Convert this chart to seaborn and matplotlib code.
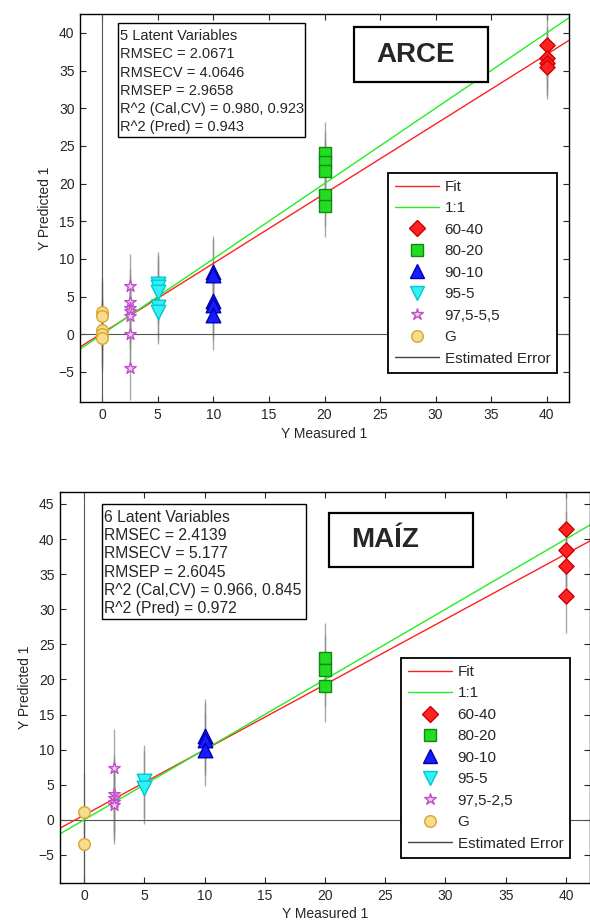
import numpy as np
import pandas as pd
import matplotlib
matplotlib.use("Agg")
import matplotlib.pyplot as plt
import seaborn as sns
from matplotlib.lines import Line2D
from matplotlib.patches import Rectangle

# ---------------- data ----------------
group_names = ["60-40", "80-20", "90-10", "95-5", "97,5", "G"]
group_measured = [40, 20, 10, 5, 2.5, 0]

# ARCE (top panel) predicted values per group
arce_6040 = [38.4, 36.6, 36.0, 35.4]
arce_8020 = [24.0, 22.8, 21.7, 18.5, 17.0]
arce_9010 = [8.3, 7.9, 4.4, 3.9, 2.6]
arce_955 = [6.6, 6.2, 5.6, 3.6, 3.0]
arce_975 = [6.4, 4.3, 3.5, 3.1, 2.4, 0.0, -4.5]
arce_g = [2.9, 2.4, 0.5, 0.0, -0.5]
arce_err = [4.2, 4.1, 4.7, 4.3, 4.3, 4.5]
arce_fit = [0.925, 0.15]  # slope, intercept
arce_stats = ["5 Latent Variables", "RMSEC = 2.0671", "RMSECV = 4.0646",
              "RMSEP = 2.9658", "R^2 (Cal,CV) = 0.980, 0.923", "R^2 (Pred) = 0.943"]
arce_labels = ["Fit", "1:1", "60-40", "80-20", "90-10", "95-5", "97,5-5,5", "G", "Estimated Error"]

# MAÍZ (bottom panel)
maiz_6040 = [41.4, 38.5, 36.1, 31.9]
maiz_8020 = [23.0, 21.3, 19.1]
maiz_9010 = [12.0, 11.4, 10.0]
maiz_955 = [5.5, 4.6]
maiz_975 = [7.4, 3.7, 3.1, 2.6, 2.1]
maiz_g = [1.1, -3.4]
maiz_err = [5.3, 5.1, 5.2, 5.2, 5.5, 5.5]
maiz_fit = [0.93, 0.67]
maiz_stats = ["6 Latent Variables", "RMSEC = 2.4139", "RMSECV = 5.177",
              "RMSEP = 2.6045", "R^2 (Cal,CV) = 0.966, 0.845", "R^2 (Pred) = 0.972"]
maiz_labels = ["Fit", "1:1", "60-40", "80-20", "90-10", "95-5", "97,5-2,5", "G", "Estimated Error"]

x_ticks = [0, 5, 10, 15, 20, 25, 30, 35, 40]
arce_yticks = [-5, 0, 5, 10, 15, 20, 25, 30, 35, 40]
maiz_yticks = [-5, 0, 5, 10, 15, 20, 25, 30, 35, 40, 45]

# ---------------- styles ----------------
markers = {"60-40": "D", "80-20": "s", "90-10": "^", "95-5": "v", "97,5": "*", "G": "o"}
faces = {"60-40": "#ff2222", "80-20": "#22dd22", "90-10": "#1a1aff", "95-5": "#33f0f5",
         "97,5": "#f3c6f3", "G": "#f8dc8e"}
edges = {"60-40": "#cc0000", "80-20": "#118811", "90-10": "#0000b0", "95-5": "#00c8d0",
         "97,5": "#c050c8", "G": "#d9a630"}
sizes = {"60-40": 60, "80-20": 70, "90-10": 110, "95-5": 110, "97,5": 75, "G": 70}

sns.set_style("ticks")
plt.rcParams["font.family"] = ["Liberation Sans", "DejaVu Sans"]

W, H = 590, 923
fig = plt.figure(figsize=(W / 100, H / 100), dpi=100)


def fx(x):
    return x / W


def fy(y):
    return 1 - y / H


def make_df(vals, errs):
    rows = []
    for name, xm, v, e in zip(group_names, group_measured, vals, errs):
        for p in v:
            rows.append({"group": name, "measured": xm, "predicted": p, "err": e})
    return pd.DataFrame(rows)


def panel(ax, df, fit, yticks, ylim, labels, legend_box, xlabelpad):
    ax.set_xlim(-2, 42)
    ax.set_ylim(*ylim)
    # estimated error bars
    ax.vlines(df["measured"], df["predicted"] - df["err"], df["predicted"] + df["err"],
              color="#8a8a8a", lw=1.0, alpha=0.75, zorder=1)
    ax.axhline(0, color="#555555", lw=0.8, zorder=1.5)
    ax.axvline(0, color="#555555", lw=0.8, zorder=1.5)
    xr = pd.DataFrame({"x": [-2, 42]})
    xr["fit"] = fit[0] * xr["x"] + fit[1]
    sns.lineplot(data=xr, x="x", y="fit", ax=ax, color="#ff2020", lw=1.0, zorder=2)
    sns.lineplot(data=xr, x="x", y="x", ax=ax, color="#22ee22", lw=1.0, zorder=2)
    for name in group_names:
        sub = df[df["group"] == name]
        sns.scatterplot(data=sub, x="measured", y="predicted", ax=ax, marker=markers[name],
                        s=sizes[name], color=faces[name], edgecolor=edges[name],
                        linewidth=1.0, zorder=3, legend=False)
    ax.set_xticks(x_ticks)
    ax.set_yticks(yticks)
    ax.set_xlabel("Y Measured 1", fontsize=10, labelpad=xlabelpad)
    ax.set_ylabel("Y Predicted 1", fontsize=10, labelpad=5)
    ax.tick_params(direction="in", top=True, right=True, length=4, width=0.8,
                   labelsize=10, pad=4)
    for sp in ax.spines.values():
        sp.set_visible(True)
        sp.set_linewidth(1.0)
        sp.set_color("black")
    handles = [
        Line2D([], [], color="#ff2020", lw=1.0),
        Line2D([], [], color="#22ee22", lw=1.0),
    ]
    for name in group_names:
        handles.append(Line2D([], [], ls="", marker=markers[name],
                              markersize=np.sqrt(sizes[name]) * 1.0,
                              markerfacecolor=faces[name], markeredgecolor=edges[name]))
    handles.append(Line2D([], [], color="#444444", lw=1.0))
    leg = ax.legend(handles, labels, loc="upper left",
                    bbox_to_anchor=(fx(legend_box[0]), fy(legend_box[1])),
                    bbox_transform=fig.transFigure, borderaxespad=0,
                    fontsize=11, handlelength=2.9, handletextpad=0.35,
                    labelspacing=0.49, borderpad=0.45, fancybox=False,
                    framealpha=1, edgecolor="black")
    leg.get_frame().set_linewidth(1.3)


def boxes(stats, stat_rect, title, title_rect, title_center, fs, ls):
    x0, y0, x1, y1 = stat_rect
    fig.patches.append(Rectangle((fx(x0), fy(y1)), fx(x1 - x0), (y1 - y0) / H,
                                 transform=fig.transFigure, fill=True, facecolor="white",
                                 edgecolor="black", lw=1.0, zorder=5))
    fig.text(fx(x0 + 2), fy(y0 + 6), "\n".join(stats), fontsize=fs, va="top", ha="left",
             linespacing=ls, zorder=6)
    x0, y0, x1, y1 = title_rect
    fig.patches.append(Rectangle((fx(x0), fy(y1)), fx(x1 - x0), (y1 - y0) / H,
                                 transform=fig.transFigure, fill=True, facecolor="white",
                                 edgecolor="black", lw=1.6, zorder=5))
    fig.text(fx(title_center[0]), fy(title_center[1]), title, fontsize=20,
             fontweight="bold", ha="center", va="center", zorder=6)


ax1 = fig.add_axes([fx(80), fy(402), fx(489), 388 / H])
panel(ax1, make_df([arce_6040, arce_8020, arce_9010, arce_955, arce_975, arce_g], arce_err),
      arce_fit, arce_yticks, (-9, 42.5), arce_labels, (388, 173), 4)
boxes(arce_stats, (118, 23, 305, 137), "ARCE", (354, 27, 488, 82), (416, 55), 10.5, 1.39)

ax2 = fig.add_axes([fx(60), fy(883), fx(530), 391 / H])
panel(ax2, make_df([maiz_6040, maiz_8020, maiz_9010, maiz_955, maiz_975, maiz_g], maiz_err),
      maiz_fit, maiz_yticks, (-9, 46.7), maiz_labels, (401, 658), 3)
boxes(maiz_stats, (102, 504, 306, 619), "MAÍZ", (329, 513, 473, 567), (385, 540), 11.3, 1.27)

fig.savefig("out.png", dpi=100)
